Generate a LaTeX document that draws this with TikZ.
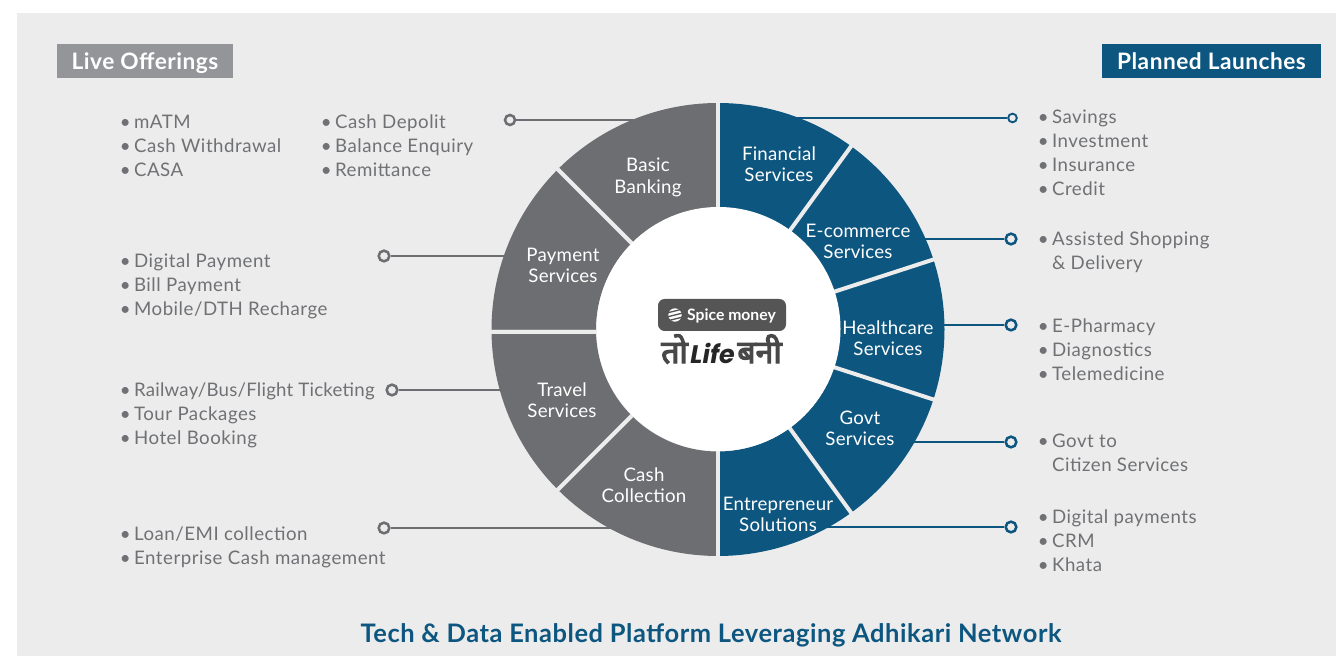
\documentclass[tikz,border=0pt]{standalone}
\usepackage{fontspec}
\setmainfont{Lato}
\newfontfamily\bodyf[LetterSpace=2.8]{Lato}
\newfontfamily\tightf[LetterSpace=1.2]{Lato}
\newfontfamily\headf[LetterSpace=2.2]{Lato}
\newfontfamily\devfont[Script=Devanagari,FakeBold=4]{Noto Sans}
\newfontfamily\lifefont{Poppins}
\definecolor{bgc}{HTML}{ECECEC}
\definecolor{bluec}{HTML}{0D5680}
\definecolor{grayc}{HTML}{6D6E71}
\definecolor{tagc}{HTML}{939598}
\definecolor{txtc}{HTML}{707174}
\definecolor{logoc}{HTML}{555555}
\newcommand{\bl}[1]{\strut\makebox[10pt][l]{\hspace*{-0.7pt}\textbullet}#1}
\newcommand{\blc}[1]{\strut\hspace*{10pt}#1}
\tikzset{
  x=0.75pt,y=0.75pt,
  listtext/.style={anchor=north west,inner sep=0pt,align=left,text=txtc,font=\fontsize{14pt}{18pt}\bodyf},
  seclabel/.style={inner sep=0pt,align=center,text=white,font=\fontsize{14pt}{15.9pt}\tightf},
  tag/.style={inner sep=0pt,minimum height=25.5pt,text=white,text height=14pt,text depth=0.5pt,font=\fontsize{17pt}{18pt}\headf\bfseries},
  portg/.style={circle,draw=grayc,fill=bgc,line width=1.9pt,minimum size=8pt,inner sep=0pt},
  portb/.style={circle,draw=bluec,fill=bgc,line width=1.9pt,minimum size=8pt,inner sep=0pt},
  wireg/.style={draw=grayc,line width=2.2pt},
  wireb/.style={draw=bluec,line width=1.9pt},
  sep/.style={draw=bgc,line width=3pt},
}
\newcommand{\sector}[3]{\fill[#3] (#1:122) -- (#1:226.5) arc[start angle=#1,end angle=#2,radius=226.5] -- (#2:122) arc[start angle=#2,end angle=#1,radius=122] -- cycle;}
\begin{document}
\begin{tikzpicture}
\useasboundingbox (0,0) rectangle (1336,656);
\fill[white] (0,0) rectangle (1336,656);
\fill[bgc] (17,0) rectangle (1336,643);

% tags
\node[tag,fill=tagc,minimum width=132pt] (live) at (145,595) {Live Offerings};
\node[tag,fill=bluec,minimum width=164.25pt] (planned) at (1211.5,595) {Planned Launches};

% ports and wires
\node[portg,minimum size=7.5pt] (pa) at (510,536) {};
\node[portg] (pb) at (384,400) {};
\node[portg] (pc) at (392,266) {};
\node[portg] (pd) at (384,128) {};
\node[portb,minimum size=6.5pt,line width=1.4pt] (pe) at (1012.5,538) {};
\node[portb] (pf) at (1011,417) {};
\node[portb] (pg) at (1011,331) {};
\node[portb] (ph) at (1011,214) {};
\node[portb] (pi) at (1011,129) {};
\coordinate (ra) at (640,536);
\coordinate (rb) at (510,400);
\coordinate (rc) at (505,266);
\coordinate (rd) at (620,128);
\coordinate (re) at (790,538);
\coordinate (rf) at (925,417);
\coordinate (rg) at (935,331);
\coordinate (rh) at (905,214);
\coordinate (ri) at (810,129);
\draw[wireg] (pa) -- (ra);
\draw[wireg] (pb) -- (rb);
\draw[wireg] (pc) -- (rc);
\draw[wireg] (pd) -- (rd);
\draw[wireb,line width=1.4pt] (pe) -- (re);
\draw[wireb] (pf) -- (rf);
\draw[wireb] (pg) -- (rg);
\draw[wireb] (ph) -- (rh);
\draw[wireb] (pi) -- (ri);

% ring
\begin{scope}[shift={(718,326.5)}]
\sector{90}{135}{grayc}
\sector{135}{180}{grayc}
\sector{180}{225}{grayc}
\sector{225}{270}{grayc}
\sector{-90}{-54}{bluec}
\sector{-54}{-18}{bluec}
\sector{-18}{18}{bluec}
\sector{18}{54}{bluec}
\sector{54}{90}{bluec}
\foreach \a in {90,135,225,270,54,18,-18,-54}
  \draw[sep] (\a:118) -- (\a:228);
\draw[sep] (-229,-2.2) -- (-115,-2.2);
\end{scope}
\node[circle,fill=white,minimum size=183pt,inner sep=0pt] (hub) at (718.5,327) {};

% sector labels
\node[seclabel] (s1) at (648,478.5) {Basic\\Banking};
\node[seclabel] (s2) at (563,391) {Payment\\Services};
\node[seclabel] (s3) at (562,256) {Travel\\Services};
\node[seclabel] (s4) at (644,171) {Cash\\Collection};
\node[seclabel] (s5) at (779,492) {Financial\\Services};
\node[seclabel] (s6) at (858,415) {E-commerce\\Services};
\node[seclabel] (s7) at (888,318) {Healthcare\\Services};
\node[seclabel] (s8) at (860,228) {Govt\\Services};
\node[seclabel] (s9) at (778,142) {Entrepreneur\\Solutions};

% lists
\node[listtext] (l1) at (120.5,545) {\bl{mATM}\\\bl{Cash Withdrawal}\\\bl{CASA}};
\node[listtext] (l2) at (321.5,545) {\bl{Cash Depolit}\\\bl{Balance Enquiry}\\\bl{Remittance}};
\node[listtext] (l3) at (120.5,406) {\bl{Digital Payment}\\\bl{Bill Payment}\\\bl{Mobile/DTH Recharge}};
\node[listtext] (l4) at (120.5,277) {\bl{{\tightf Railway/Bus/Flight Ticketing}}\\\bl{Tour Packages}\\\bl{Hotel Booking}};
\node[listtext] (l5) at (120.5,133) {\bl{Loan/EMI collection}\\\bl{Enterprise Cash management}};
\node[listtext] (l6) at (1038.5,550) {\bl{Savings}\\\bl{Investment}\\\bl{Insurance}\\\bl{Credit}};
\node[listtext] (l7) at (1038.5,428) {\bl{Assisted Shopping}\\\blc{\& Delivery}};
\node[listtext] (l8) at (1038.5,341) {\bl{E-Pharmacy}\\\bl{Diagnostics}\\\bl{Telemedicine}};
\node[listtext] (l9) at (1038.5,226) {\bl{Govt to}\\\blc{Citizen Services}};
\node[listtext] (l10) at (1038.5,150) {\bl{Digital payments}\\\bl{CRM}\\\bl{Khata}};

% logo
\node[fill=logoc,rounded corners=5pt,minimum width=96pt,minimum height=24pt,inner sep=0pt] (logo) at (722,341) {};
\node[inner sep=0pt,text=white,font=\fontsize{11.8pt}{12pt}\selectfont\bfseries] (logotext) at (731.5,340) {Spice money};
\node[circle,fill=white,minimum size=10pt,inner sep=0pt] (logoicon) at (675,341) {};
\foreach \d in {-4,0,4}
  \draw[logoc,line width=1pt] ([shift={(-8,{\d-2})}]logoicon.center) -- ([shift={(8,{\d+2})}]logoicon.center);
\node[inner sep=0pt,text=logoc!85!black,font=\fontsize{24pt}{26pt}\devfont] (tag2) at (721.5,307)
  {तो\hspace{2pt}{\fontsize{19pt}{22pt}\lifefont\bfseries\itshape\color{black!85}Life}\hspace{2pt}बनी};

% footer
\node[inner sep=0pt,text=bluec,font=\fontsize{19.1pt}{20pt}\headf\bfseries] (foot) at (711,21) {Tech \& Data Enabled Platform Leveraging Adhikari Network};
\end{tikzpicture}
\end{document}
